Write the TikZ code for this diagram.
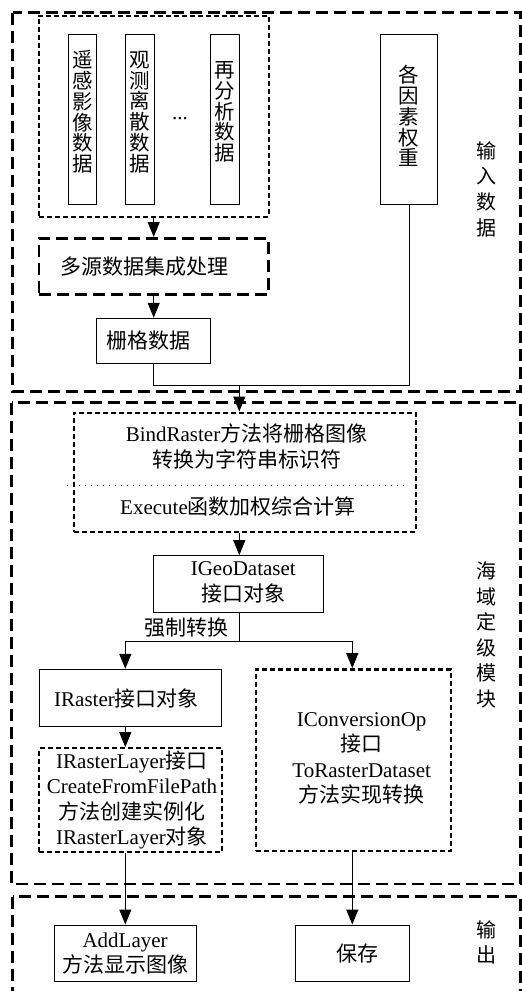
\documentclass[tikz,border=0pt]{standalone}
\usepackage{fontspec}
\setmainfont{Liberation Serif}
\newfontfamily\zhfont{Noto Sans CJK SC}
\newcommand\zh[1]{{\zhfont #1}}
\usetikzlibrary{arrows.meta}
\tikzset{
  box/.style={draw, line width=1pt, inner sep=0pt, align=center, font=\fontsize{21}{25.5}\selectfont},
  bigdash/.style={draw, line width=2.6pt, dash pattern=on 12pt off 6pt},
  smalldash/.style={draw, line width=2.3pt, dash pattern=on 5pt off 3pt},
  conn/.style={line width=1pt},
  arr/.style={conn, -{Triangle[length=15pt,width=12pt]}},
  vtext/.style={align=center, inner sep=0pt, font=\fontsize{20.5}{20.8}\selectfont\zhfont},
  side/.style={align=center, inner sep=0pt, font=\fontsize{20}{25.6}\selectfont\zhfont},
  txt/.style={align=center, inner sep=0pt, font=\fontsize{21}{25.5}\selectfont},
}
\begin{document}
\begin{tikzpicture}[x=1pt,y=-1pt]
\useasboundingbox (0,0) rectangle (522,991);
\clip (0,0) rectangle (522,991);

% group frames
\draw[bigdash] (12.7,12.7) rectangle (520.5,391.7);
\draw[bigdash] (11.7,402.7) rectangle (520.7,884);
\draw[bigdash] (12.7,896.7) rectangle (520.5,1010);

% ---------- input data ----------
\node[smalldash, inner sep=0pt, minimum width=229.7pt, minimum height=201pt] (src) at (153.85,116.2) {};
\node[box, minimum width=28.4pt, minimum height=170pt] (d1) at (82.5,119.3) {};
\node[box, minimum width=28.7pt, minimum height=170pt] (d2) at (139.7,119.3) {};
\node[box, minimum width=28.6pt, minimum height=170pt] (d3) at (225,119.3) {};
\node[vtext] (d1t) at (82.5,112) {遥\\感\\影\\像\\数\\据};
\node[vtext] (d2t) at (139.7,112) {观\\测\\离\\散\\数\\据};
\node[vtext] (d3t) at (225,112) {再\\分\\析\\数\\据};
\node[txt, anchor=base] (dots) at (180,119.5) {...};
\node[box, minimum width=57pt, minimum height=170pt] (wt) at (409.2,119.3) {};
\node[vtext] (wtt) at (409.2,116) {各\\因\\素\\权\\重};
\node[side] (lab1) at (486.7,189) {输\\入\\数\\据};

\node[box, bigdash, minimum width=229.7pt, minimum height=56pt] (multi) at (153.85,266.3) {};
\node[txt, font=\fontsize{21}{25.5}\selectfont\zhfont] (multit) at (144,266.3) {多源数据集成处理};
\node[box, minimum width=114pt, minimum height=45pt] (grid) at (153.7,340.8) {\zh{栅格数据}\hspace*{10pt}};

\draw[arr] (src.south -| grid.north) -- (multi.north -| grid.north);
\draw[arr] (multi.south -| grid.north) -- (grid.north);

\coordinate (j) at (239.3,385.7);
\draw[conn] (grid.south) |- (j) -| (wt.south);

% ---------- grading module ----------
\node[box, smalldash, minimum width=341.7pt, minimum height=119pt] (bind) at (244.85,472.2) {};
\node[txt] (bindA) at (246.5,446.5) {BindRaster\zh{方法将栅格图像}\\\zh{转换为字符串标识符}};
\node[txt] (bindB) at (238,506.7) {Execute\zh{函数加权综合计算}};
\draw[line width=1pt, dash pattern=on 1pt off 5pt] (66.7,485) -- (408,485);
\draw[arr] (j) -- (j |- bind.north);

\node[box, minimum width=169.6pt, minimum height=56.6pt] (geo) at (238.5,584) {};
\node[txt] (geot) at (243.3,582.5) {IGeoDataset\\\zh{接口对象}};
\draw[arr] (j |- bind.south) -- (j |- geo.north);

\coordinate (s0) at (239.3,641);
\coordinate (sL) at (125.3,641);
\coordinate (sR) at (352.3,641);
\node[txt, font=\fontsize{21}{25.5}\selectfont\zhfont] (force) at (186.7,627.7) {强制转换};

\node[box, minimum width=182.4pt, minimum height=57.4pt] (raster) at (130.5,698) {IRaster\zh{接口对象}\hspace*{8pt}};
\node[box, smalldash, minimum width=183pt, minimum height=103.4pt] (layer) at (130.8,800) {};
\node[txt] (layert) at (132,800) {IRasterLayer\zh{接口}\\CreateFromFilePath\\\zh{方法创建实例化}\\IRasterLayer\zh{对象}};
\node[box, smalldash, minimum width=195pt, minimum height=181.7pt] (conv) at (353.2,760.2) {};
\node[txt] (convt) at (361.7,758.3) {IConversionOp\\\zh{接口}\\ToRasterDataset\\\zh{方法实现转换}};

\draw[conn] (j |- geo.south) -- (s0);
\draw[conn] (sL) -- (sR);
\draw[arr] (sL) -- (sL |- raster.north);
\draw[arr] (sR) -- (sR |- conv.north);
\draw[arr] (sL |- raster.south) -- (sL |- layer.north);

\node[side] (lab2) at (486.7,635) {海\\域\\定\\级\\模\\块};

% ---------- output ----------
\node[box, minimum width=141.7pt, minimum height=56.7pt] (add) at (125.15,953.35) {AddLayer\\\zh{方法显示图像}};
\node[box, minimum width=114pt, minimum height=56.7pt] (save) at (352,953.35) {\hspace*{11pt}\zh{保存}};
\draw[arr] (sL |- layer.south) -- (sL |- add.north);
\draw[arr] (sR |- conv.south) -- (sR |- save.north);

\node[side] (lab3) at (486.7,942.5) {输\\出};
\end{tikzpicture}
\end{document}
